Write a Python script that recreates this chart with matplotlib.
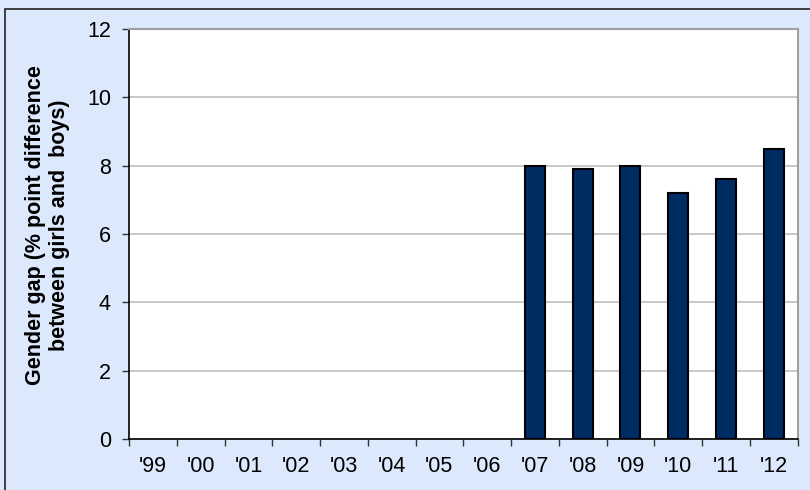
import numpy as np
import matplotlib
matplotlib.use("Agg")
import matplotlib.pyplot as plt
from matplotlib.patches import Rectangle

# Data
years = ["'99", "'00", "'01", "'02", "'03", "'04", "'05", "'06",
         "'07", "'08", "'09", "'10", "'11", "'12"]
gap = [np.nan, np.nan, np.nan, np.nan, np.nan, np.nan, np.nan, np.nan,
       8.0, 7.9, 8.0, 7.2, 7.6, 8.5]

bg = '#DCE9FC'
plt.rcParams['font.family'] = ['Liberation Sans', 'DejaVu Sans']

fig = plt.figure(figsize=(8.1, 4.9), dpi=100)
fig.patch.set_facecolor(bg)
# outer frame (only top and left edges visible)
fig.add_artist(Rectangle((5/810, -0.1), 1.2, (490-9)/490 + 0.1,
                         transform=fig.transFigure, fill=False,
                         edgecolor='#222222', lw=1.2))

ax = fig.add_axes([129/810, 51/490, (797.5-129)/810, (439-29)/490])
ax.set_facecolor('white')

x = np.arange(len(years))
vals = np.array(gap, dtype=float)
ok = ~np.isnan(vals)
ax.bar(x[ok], vals[ok], width=0.42, color='#002C64', edgecolor='black',
       linewidth=1.5, zorder=3)

ax.set_xlim(-0.5, len(years) - 0.5)
ax.set_ylim(0, 12)
ax.set_yticks(np.arange(0, 13, 2))
ax.yaxis.grid(True, color='#BFBFBF', lw=1.2, zorder=0)
ax.set_axisbelow(True)

# ticks at category boundaries, labels in the middle
ax.set_xticks(np.arange(-0.5, len(years)), [''] * (len(years) + 1))
ax.set_xticks(x, years, minor=True)
ax.tick_params(axis='x', which='minor', length=0, pad=12, labelsize=15.5)
ax.tick_params(axis='x', which='major', length=5, width=1, color='#333333')
ax.tick_params(axis='y', length=5, width=1, color='#333333', labelsize=15.5, pad=8)

for s in ['top', 'right']:
    ax.spines[s].set_color('#A0A0A0')
    ax.spines[s].set_linewidth(1.5)
for s in ['left', 'bottom']:
    ax.spines[s].set_color('black')
    ax.spines[s].set_linewidth(1.2)

ax.set_ylabel('Gender gap (% point difference\nbetween girls and  boys)',
              fontsize=15.5, fontweight='bold', linespacing=1.2)
ax.yaxis.set_label_coords(-0.088, 0.522)

fig.savefig('out.png', dpi=100, facecolor=bg)
